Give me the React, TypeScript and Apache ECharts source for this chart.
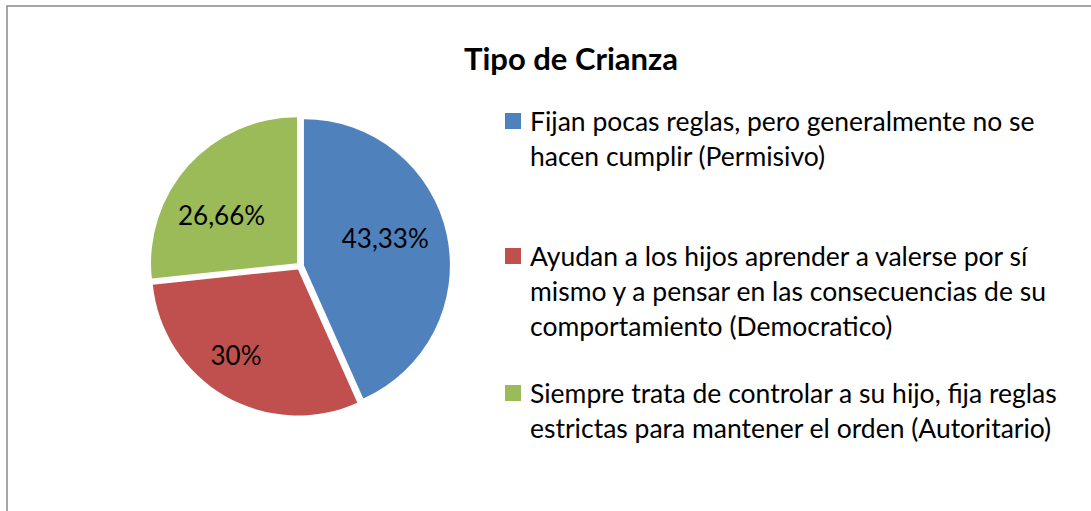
import React, { useEffect, useRef } from "react";
import * as echarts from "echarts";

const titleText = "Tipo de Crianza";
const categories = [
  "Fijan pocas reglas, pero generalmente no se\nhacen cumplir (Permisivo)",
  "Ayudan a los hijos aprender a valerse por sí\nmismo y a pensar en las consecuencias de su\ncomportamiento (Democratico)",
  "Siempre trata de controlar a su hijo, fija reglas\nestrictas para mantener el orden (Autoritario)",
];
const values = [43.33, 30, 26.66];
const colors = ["#4F81BD", "#C0504D", "#9BBB59"];
const labelShifts = [
  [7, -11],
  [-24, 20],
  [-19, 3],
];

const FONT = "Lato";
const LINE_H = 35;

export default function App() {
  const ref = useRef<HTMLDivElement>(null);
  useEffect(() => {
    if (!ref.current) return;
    const chart = echarts.init(ref.current, undefined, { renderer: "svg" });
    const iconTops = [113, 248, 385];
    const legends = categories.map((name, i) => {
      const n = name.split("\n").length;
      const box = (2 * n - 1) * LINE_H;
      return {
        data: [name],
        orient: "vertical",
        left: 505,
        top: iconTops[i] - (box / 2 - 8),
        padding: 0,
        icon: "rect",
        itemWidth: 16,
        itemHeight: 16,
        selectedMode: false,
        formatter: (s: string) => "\n".repeat(n - 1) + s,
        textStyle: {
          fontFamily: FONT,
          fontSize: 26.5,
          color: "#000",
          lineHeight: LINE_H,
          padding: [0, 0, 0, 4],
        },
      };
    });
    chart.setOption({
      animation: false,
      color: colors,
      title: {
        text: titleText,
        left: 566,
        top: 37,
        textAlign: "center",
        textStyle: { fontFamily: FONT, fontSize: 31, fontWeight: "bold", color: "#000" },
      },
      graphic: [
        {
          type: "rect",
          shape: { x: 7, y: 6, width: 1300, height: 700 },
          style: { fill: "none", stroke: "#898989", lineWidth: 1.5 },
          silent: true,
        },
      ],
      legend: legends,
      series: [
        {
          type: "pie",
          center: [300, 266],
          radius: 146,
          startAngle: 90,
          clockwise: true,
          selectedMode: "multiple",
          selectedOffset: 4,
          emphasis: { disabled: true },
          itemStyle: { borderWidth: 0 },
          labelLine: { show: false },
          label: {
            show: true,
            position: "inside",
            fontFamily: FONT,
            fontSize: 26,
            color: "#000",
            formatter: (p: any) => String(p.value).replace(".", ",") + "%",
          },
          labelLayout: (p: any) => ({ dx: labelShifts[p.dataIndex][0], dy: labelShifts[p.dataIndex][1] }),
          data: categories.map((name, i) => ({
            name,
            value: values[i],
            selected: true,
          })),
        },
      ],
    });
    return () => chart.dispose();
  }, []);
  return (
    <div
      ref={ref}
      style={{ position: "fixed", left: 0, top: 0, width: 1091, height: 511, background: "#fff" }}
    />
  );
}
